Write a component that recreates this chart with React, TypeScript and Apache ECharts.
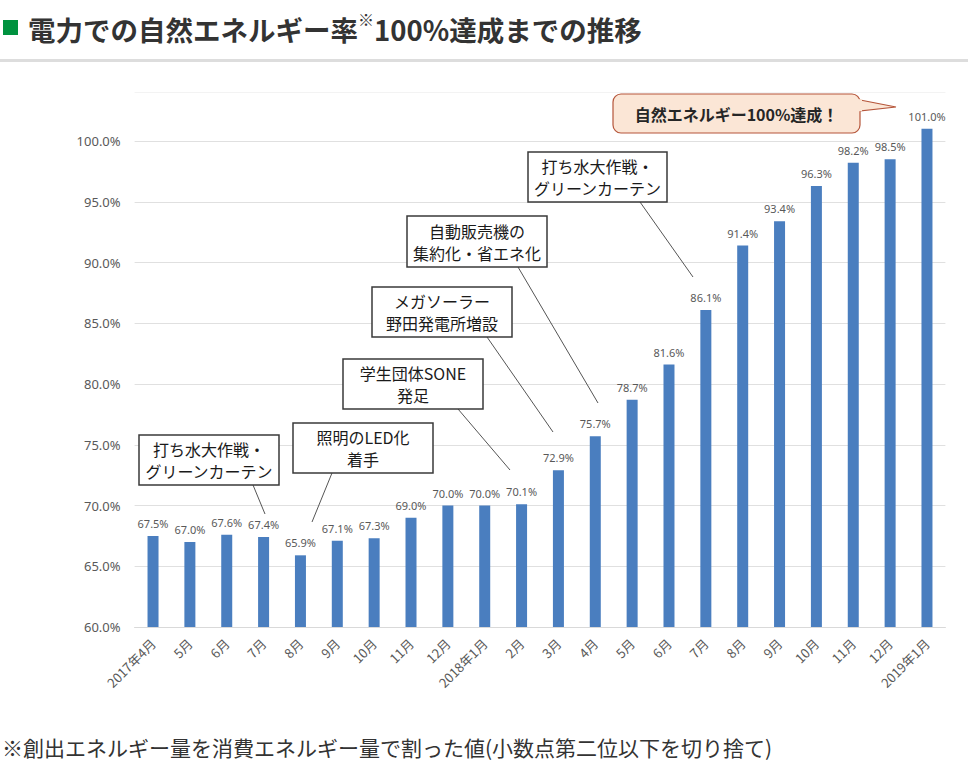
import React, { useEffect, useRef } from "react";
import * as echarts from "echarts";

// Monthly share of self-generated (renewable) energy against consumption
const categories = [
  "2017年4月", "5月", "6月", "7月", "8月", "9月", "10月", "11月", "12月",
  "2018年1月", "2月", "3月", "4月", "5月", "6月", "7月", "8月", "9月", "10月", "11月", "12月",
  "2019年1月",
];
const rates = [
  67.5, 67.0, 67.6, 67.4, 65.9, 67.1, 67.3, 69.0, 70.0,
  70.0, 70.1, 72.9, 75.7, 78.7, 81.6, 86.1, 91.4, 93.4, 96.3, 98.2, 98.5,
  101.0,
];
const yMin = 60;
const yMax = 104;
const yStep = 5;

const titleMain = "電力での自然エネルギー率";
const titleMark = "※";
const titleRest = "100%達成までの推移";
const footnote = "※創出エネルギー量を消費エネルギー量で割った値(小数点第二位以下を切り捨て)";
const eventNotes = [
  "打ち水大作戦・\nグリーンカーテン",
  "照明のLED化\n着手",
  "学生団体SONE\n発足",
  "メガソーラー\n野田発電所増設",
  "自動販売機の\n集約化・省エネ化",
  "打ち水大作戦・\nグリーンカーテン",
];
const goalNote = "自然エネルギー100%達成！";

const JP = '"Noto Sans CJK JP", "Noto Sans", sans-serif';
const NUM = '"Noto Sans", "Noto Sans CJK JP", sans-serif';

// box: [x, y, w, h], leader: [x1, y1, x2, y2]
const noteLayout: { box: number[]; leader: number[] }[] = [
  { box: [139, 435, 140, 50], leader: [253, 485, 265, 514] },
  { box: [293, 423, 140, 50], leader: [332, 473, 312, 522] },
  { box: [343, 359, 140, 50], leader: [458, 409, 510, 470] },
  { box: [372, 287, 140, 50], leader: [487, 337, 553, 432] },
  { box: [407, 216, 140, 51], leader: [518, 267, 598, 403] },
  { box: [528, 152, 139, 50], leader: [640, 202, 693, 277] },
];

function noteGraphics() {
  const out: any[] = [];
  eventNotes.forEach((txt, i) => {
    const { box, leader } = noteLayout[i];
    out.push({
      type: "line",
      z: 10,
      shape: { x1: leader[0], y1: leader[1], x2: leader[2], y2: leader[3] },
      style: { stroke: "#555555", lineWidth: 1 },
    });
    out.push({
      type: "rect",
      z: 11,
      shape: { x: box[0], y: box[1], width: box[2], height: box[3] },
      style: { fill: "#ffffff", stroke: "#3a3a3a", lineWidth: 1.5 },
    });
    out.push({
      type: "text",
      z: 12,
      x: box[0] + box[2] / 2,
      y: box[1] + box[3] / 2,
      style: {
        text: txt,
        fill: "#1a1a1a",
        font: `16px ${JP}`,
        lineHeight: 22,
        align: "center",
        verticalAlign: "middle",
      },
    });
  });
  return out;
}

// grid lines 60..100 plus a fainter one at the top edge
const gridColors = [
  "#e0e0e0", "#e0e0e0", "#e0e0e0", "#e0e0e0", "#e0e0e0",
  "#e0e0e0", "#e0e0e0", "#e0e0e0", "#e0e0e0", "#f3f3f3",
];

export default function App() {
  const ref = useRef<HTMLDivElement>(null);

  useEffect(() => {
    if (!ref.current) return;
    const chart = echarts.init(ref.current, undefined, { renderer: "svg" });
    const option: any = {
      animation: false,
      backgroundColor: "#ffffff",
      grid: { left: 134.6, right: 22.6, top: 92.4, bottom: 155, containLabel: false },
      xAxis: {
        type: "category",
        data: categories,
        axisLine: { lineStyle: { color: "#d9d9d9", width: 1 } },
        axisTick: { show: false },
        axisLabel: {
          rotate: 45,
          interval: 0,
          color: "#595959",
          fontSize: 13,
          fontFamily: JP,
          margin: 14,
        },
      },
      yAxis: {
        type: "value",
        min: yMin,
        max: yMax,
        interval: yStep,
        axisLine: { show: false },
        axisTick: { show: false },
        splitLine: { lineStyle: { color: gridColors, width: 1 } },
        axisLabel: {
          color: "#595959",
          fontSize: 13,
          fontFamily: NUM,
          margin: 14,
          formatter: (v: number) => (v <= 100 ? v.toFixed(1) + "%" : ""),
        },
      },
      series: [
        {
          type: "bar",
          data: rates,
          barWidth: 11,
          itemStyle: { color: "#4a7ebf" },
          label: {
            show: true,
            position: "top",
            distance: 7,
            color: "#595959",
            fontSize: 11,
            fontFamily: NUM,
            formatter: (p: any) => Number(p.value).toFixed(1) + "%",
          },
        },
      ],
      graphic: [
        {
          type: "rect",
          shape: { x: 3, y: 20, width: 15, height: 15 },
          style: { fill: "#00923f" },
        },
        {
          type: "text",
          x: 28,
          y: 29,
          style: {
            text: `{a|${titleMain}}{s|${titleMark}}{a|${titleRest}}`,
            verticalAlign: "middle",
            rich: {
              a: { font: `bold 27.5px ${JP}`, fill: "#333333", lineHeight: 36 },
              s: { font: `bold 16px ${JP}`, fill: "#333333", verticalAlign: "top", lineHeight: 36 },
            },
          },
        },
        {
          type: "rect",
          shape: { x: 0, y: 59, width: 968, height: 3 },
          style: { fill: "#dddddd" },
        },
        {
          type: "text",
          x: 2,
          y: 747,
          style: {
            text: footnote,
            font: `21px ${JP}`,
            fill: "#333333",
            verticalAlign: "middle",
          },
        },
        ...noteGraphics(),
        // goal callout with a tail pointing at the last bar
        {
          type: "polygon",
          z: 10,
          shape: { points: [[850, 98], [896, 107], [850, 112]] },
          style: { fill: "#fbe6d6", stroke: "#b5553a", lineWidth: 1.2 },
        },
        {
          type: "rect",
          z: 11,
          shape: { x: 613, y: 94, width: 247, height: 39, r: 8 },
          style: { fill: "#fbe6d6", stroke: "#b5553a", lineWidth: 1.2 },
        },
        {
          type: "rect",
          z: 12,
          shape: { x: 854, y: 99.2, width: 8, height: 12 },
          style: { fill: "#fbe6d6" },
        },
        {
          type: "text",
          z: 13,
          x: 736.5,
          y: 113.5,
          style: {
            text: goalNote,
            font: `bold 16px ${JP}`,
            fill: "#262626",
            align: "center",
            verticalAlign: "middle",
          },
        },
      ],
    };
    chart.setOption(option);
    return () => chart.dispose();
  }, []);

  return (
    <div
      ref={ref}
      style={{ position: "absolute", left: 0, top: 0, width: 968, height: 782 }}
    />
  );
}
